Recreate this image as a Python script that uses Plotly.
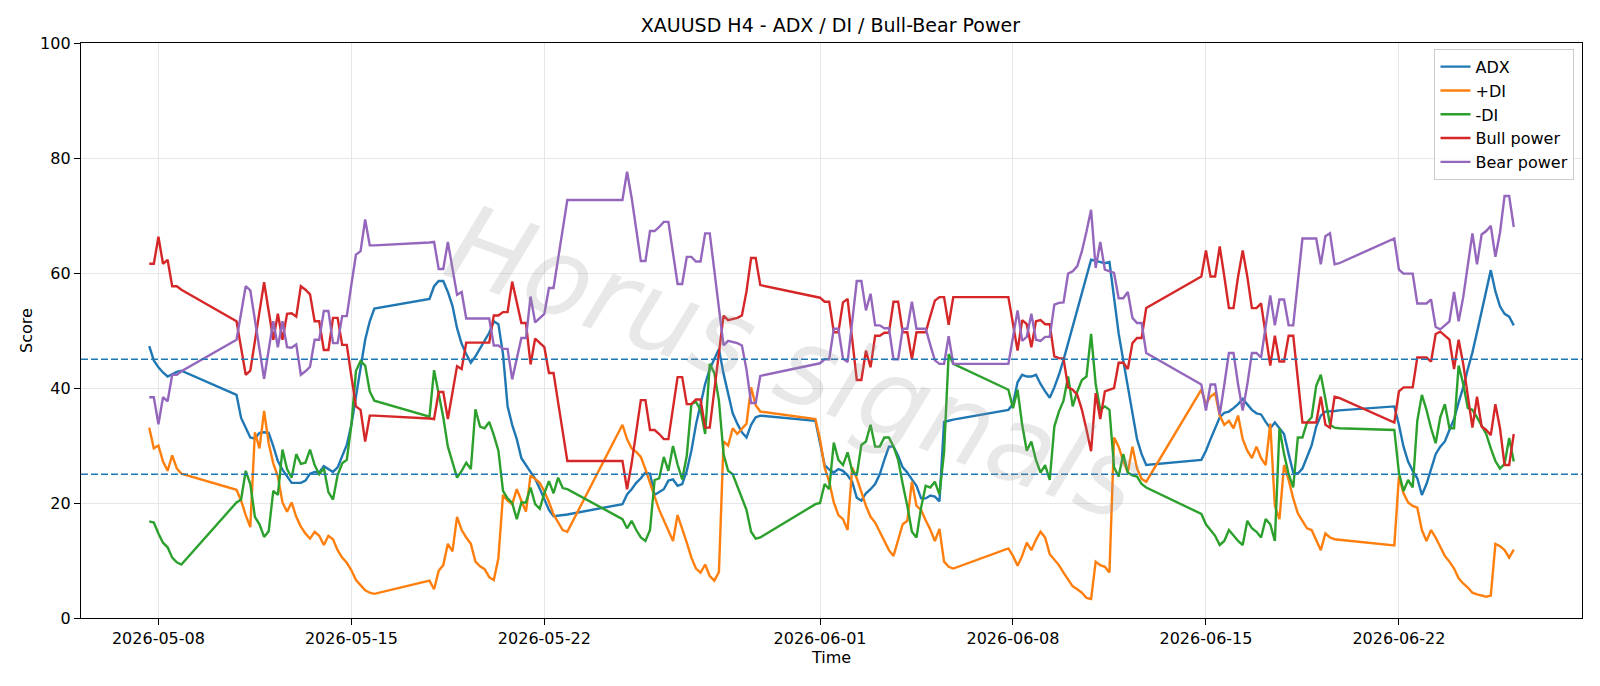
import pandas as pd
import plotly.graph_objects as go

# H4 trading sessions (each weekly block of 4-hour bars)
sessions = [
    ("2026-05-07 16:00", "2026-05-08 20:00"),
    ("2026-05-10 20:00", "2026-05-15 20:00"),
    ("2026-05-17 20:00", "2026-05-22 20:00"),
    ("2026-05-24 20:00", "2026-05-29 20:00"),
    ("2026-05-31 20:00", "2026-06-05 20:00"),
    ("2026-06-07 20:00", "2026-06-12 20:00"),
    ("2026-06-14 20:00", "2026-06-19 20:00"),
    ("2026-06-21 20:00", "2026-06-26 04:00"),
]

adx = [
    47.3, 44.8, 43.6, 42.7, 42.0, 42.4, 42.8, 43.0,
    38.8, 34.8, 33.0, 31.4, 31.2, 32.2, 32.3, 32.2, 29.9, 27.3, 25.8, 24.6, 23.5, 23.5, 23.5, 23.9,
    25.1, 25.4, 25.3, 26.4, 25.9, 25.4, 26.2, 28.0, 30.1, 33.6, 38.3, 43.0, 48.4, 51.6, 53.8,
    55.5, 57.7, 58.6, 58.6, 56.7, 54.3, 50.4, 47.7, 45.9, 44.4, 45.5, 46.8, 48.1, 49.6, 51.6, 51.1,
    45.9, 36.8, 33.6, 31.1, 27.8, 26.6, 25.4, 24.2, 22.5, 20.5, 18.8, 17.7, 17.8, 17.9, 18.0,
    19.8, 21.5, 22.4, 23.5, 24.3, 25.3, 25.1, 21.4, 21.9, 22.4, 23.9, 24.1, 23.0, 23.3, 25.6, 29.1,
    33.6, 37.2, 40.7, 43.3, 45.2, 46.8, 42.5, 38.8, 35.6, 33.8, 32.3, 31.4, 33.6, 34.9, 35.2,
    34.3, 30.4, 26.6, 25.8, 25.3, 25.9, 25.6, 24.8, 23.7, 20.9, 20.4, 21.7, 22.4, 23.3, 25.0, 27.5,
    29.8, 29.8, 28.2, 26.2, 25.3, 24.1, 23.0, 20.8, 20.8, 21.3, 21.1, 20.3, 34.1, 34.3, 34.5,
    36.2, 37.2, 41.0, 42.3, 42.0, 42.0, 42.3, 40.7, 39.4, 38.3, 40.1, 42.3, 44.9, 47.8, 50.7, 53.6,
    56.1, 59.4, 62.3, 62.1, 61.9, 61.7, 61.9, 55.5, 49.5, 44.8, 40.1, 35.6, 31.1, 28.5, 26.6,
    27.5, 29.1, 31.1, 33.0, 34.9, 35.7, 35.9, 36.5, 37.2, 38.1, 37.2, 36.2, 35.6, 35.4, 34.1, 33.0,
    34.0, 33.0, 32.0, 28.5, 25.3, 25.1, 26.0, 28.0, 30.0, 33.3, 35.2, 35.9, 35.9, 36.0, 36.1,
    36.8, 33.6, 29.8, 27.2, 25.6, 24.3, 21.4, 23.3, 25.9, 28.5, 29.8, 30.7, 32.7, 34.6, 37.5, 40.1,
    43.3, 46.2, 49.7, 53.2, 56.5, 60.5, 56.8, 54.2, 52.9, 52.4, 50.9,
]

plus_di = [
    33.1, 29.5, 30.0, 27.2, 25.6, 28.3, 26.0, 25.1,
    22.3, 20.4, 17.9, 15.8, 32.3, 29.5, 36.0, 30.4, 26.9, 24.6, 20.1, 18.5, 20.1, 17.6, 15.9, 14.7,
    13.8, 15.0, 14.3, 12.7, 14.3, 13.7, 11.8, 10.5, 9.6, 8.3, 6.6, 5.6, 4.8, 4.4, 4.2,
    6.5, 5.0, 8.2, 9.2, 12.9, 11.6, 17.6, 15.3, 14.0, 12.9, 9.8, 9.0, 8.5, 7.1, 6.6, 10.4,
    21.4, 20.4, 19.8, 22.4, 20.4, 18.5, 24.8, 24.2, 23.5, 22.0, 20.2, 18.0, 16.6, 15.3, 15.0,
    33.6, 31.1, 29.5, 28.9, 28.0, 25.9, 23.3, 21.1, 18.8, 16.9, 15.0, 13.4, 17.9, 15.6, 13.1, 10.5,
    8.6, 7.9, 9.3, 7.3, 6.5, 8.0, 30.7, 30.0, 33.0, 32.0, 33.0, 33.8, 40.1, 37.0, 35.9,
    34.6, 31.1, 26.2, 23.7, 20.1, 17.9, 17.2, 15.3, 26.2, 24.3, 21.7, 19.5, 17.6, 16.6, 15.0, 13.4,
    11.8, 10.8, 13.4, 16.3, 16.9, 23.7, 19.5, 18.8, 17.0, 15.4, 13.4, 15.5, 9.8, 8.9, 8.6,
    12.1, 10.8, 9.1, 10.8, 13.1, 11.8, 13.6, 15.0, 14.0, 11.1, 10.2, 9.2, 7.9, 6.6, 5.5, 5.0,
    4.4, 3.5, 3.3, 9.8, 9.2, 8.9, 7.9, 31.4, 29.8, 27.3, 25.3, 29.8, 26.0, 24.2, 23.7,
    39.7, 37.2, 38.5, 39.1, 35.2, 33.6, 34.3, 33.0, 35.2, 31.1, 29.1, 27.8, 29.8, 27.8, 26.6, 33.8,
    19.5, 17.2, 26.6, 24.0, 20.8, 18.2, 16.9, 15.6, 15.3, 13.5, 11.8, 14.7, 14.0, 13.7, 13.6,
    12.6, 24.6, 21.7, 20.1, 19.5, 19.2, 15.3, 13.4, 15.3, 14.0, 12.4, 10.8, 9.8, 8.6, 6.9, 6.0,
    5.3, 4.4, 4.1, 3.9, 3.7, 3.9, 12.9, 12.5, 11.8, 10.5, 11.9,
]

minus_di = [
    16.8, 16.6, 14.7, 13.1, 12.3, 10.5, 9.7, 9.3,
    20.1, 20.6, 25.6, 23.3, 17.6, 16.3, 14.1, 15.1, 22.1, 21.4, 29.3, 25.9, 24.4, 28.5, 26.8, 27.0,
    29.3, 26.6, 25.0, 26.1, 21.9, 20.6, 24.8, 26.9, 27.5, 33.6, 43.0, 44.7, 43.9, 39.4, 37.8,
    35.0, 43.1, 38.9, 34.9, 29.8, 26.9, 24.4, 25.6, 27.0, 25.9, 36.3, 33.3, 33.0, 34.1, 31.8, 29.1,
    22.1, 20.8, 20.0, 17.2, 20.1, 20.1, 22.7, 19.8, 19.0, 21.7, 23.8, 21.7, 24.4, 22.6, 22.4,
    17.2, 15.6, 16.9, 15.3, 14.0, 13.4, 15.3, 24.0, 24.3, 28.0, 25.6, 29.9, 26.7, 24.1, 28.2, 37.2,
    37.6, 36.2, 32.0, 44.2, 42.6, 37.8, 28.5, 25.6, 25.0, 23.0, 21.0, 18.8, 15.0, 13.8, 14.0,
    19.8, 20.0, 23.3, 22.4, 30.5, 27.5, 26.6, 28.8, 25.6, 24.8, 30.1, 30.7, 33.6, 29.8, 29.8, 31.4,
    31.4, 29.8, 27.5, 23.3, 19.5, 15.0, 14.0, 19.2, 23.0, 22.7, 23.7, 21.5, 28.8, 45.9, 44.2,
    39.7, 36.5, 39.7, 33.6, 29.1, 30.7, 27.5, 25.3, 26.6, 24.0, 33.3, 35.9, 37.8, 42.0, 36.8, 39.4,
    41.4, 42.0, 49.4, 40.7, 36.2, 36.8, 36.2, 26.2, 24.6, 28.5, 25.3, 24.8, 24.6, 23.3, 22.7,
    18.1, 16.3, 15.3, 14.3, 12.7, 13.4, 15.3, 14.3, 13.4, 12.7, 16.9, 15.6, 15.0, 14.0, 17.2, 16.3,
    13.4, 33.0, 28.5, 25.0, 22.7, 31.4, 31.4, 34.0, 34.9, 40.4, 42.3, 38.1, 33.6, 33.1, 33.0,
    32.7, 25.3, 22.1, 24.0, 22.7, 34.3, 38.8, 36.2, 33.0, 30.4, 34.9, 37.2, 33.0, 33.0, 43.9, 40.7,
    36.5, 36.2, 34.9, 33.5, 32.0, 29.5, 27.3, 26.0, 26.8, 31.3, 27.2,
]

bull_power = [
    61.6, 61.6, 66.3, 61.6, 62.3, 57.7, 57.7, 57.1,
    51.6, 47.0, 42.3, 43.0, 48.2, 53.3, 58.4, 53.4, 48.4, 52.9, 48.4, 52.9, 53.0, 52.4, 57.7, 57.1,
    56.3, 51.6, 51.6, 46.6, 46.6, 52.2, 52.2, 47.5, 47.5, 42.0, 36.8, 36.2, 30.7, 35.2, 35.2,
    34.7, 34.6, 39.3, 39.3, 34.6, 39.2, 43.8, 43.3, 47.9, 47.9, 47.9, 47.9, 47.9, 47.9, 52.6, 52.6,
    53.2, 53.2, 58.5, 55.0, 51.3, 51.3, 44.1, 48.6, 47.9, 47.1, 42.6, 42.6, 37.5, 32.3, 27.3,
    27.3, 22.4, 26.9, 32.3, 37.9, 37.9, 32.7, 32.7, 32.0, 31.1, 31.1, 36.5, 41.9, 41.9, 37.2, 37.2,
    38.0, 38.0, 33.1, 33.1, 39.4, 45.9, 52.6, 51.8, 52.0, 52.2, 52.6, 56.8, 62.6, 62.6, 57.9,
    55.8, 55.7, 55.0, 55.0, 49.7, 49.7, 54.9, 55.5, 48.5, 41.4, 41.4, 46.5, 43.6, 49.1, 49.1, 49.6,
    49.6, 55.0, 55.0, 49.7, 49.7, 45.0, 49.7, 49.7, 49.7, 52.5, 55.2, 55.8, 55.8, 51.0, 55.8,
    55.8, 51.0, 46.5, 51.8, 51.1, 47.1, 51.6, 51.8, 51.1, 51.1, 45.5, 45.2, 45.1, 40.1, 39.7, 38.8,
    36.2, 32.8, 29.0, 39.1, 34.6, 39.4, 39.7, 40.0, 44.4, 44.4, 43.3, 47.8, 48.7, 48.7, 53.9,
    59.4, 63.9, 59.4, 59.4, 64.6, 59.4, 53.9, 53.9, 59.4, 63.9, 59.4, 53.9, 53.9, 54.7, 49.7, 43.9,
    49.1, 44.6, 44.6, 49.1, 49.1, 41.4, 34.0, 34.0, 34.0, 34.0, 38.5, 33.6, 33.1, 38.5, 38.3,
    34.0, 39.4, 40.1, 40.1, 40.1, 45.3, 45.3, 45.3, 44.6, 49.4, 49.8, 49.1, 48.4, 43.3, 48.4, 44.2,
    38.8, 33.1, 38.5, 33.3, 32.7, 31.8, 37.2, 33.0, 26.6, 26.6, 32.0,
]

bear_power = [
    38.4, 38.4, 33.7, 38.4, 37.7, 42.3, 42.3, 42.9,
    48.4, 53.0, 57.7, 57.0, 51.8, 46.7, 41.6, 46.6, 51.6, 47.1, 51.6, 47.1, 47.0, 47.6, 42.3, 42.9,
    43.7, 48.4, 48.4, 53.4, 53.4, 47.8, 47.8, 52.5, 52.5, 58.0, 63.2, 63.8, 69.3, 64.8, 64.8,
    65.3, 65.4, 60.7, 60.7, 65.4, 60.8, 56.2, 56.7, 52.1, 52.1, 52.1, 52.1, 52.1, 52.1, 47.4, 47.4,
    46.8, 46.8, 41.5, 45.0, 48.7, 48.7, 55.9, 51.4, 52.1, 52.9, 57.4, 57.4, 62.5, 67.7, 72.7,
    72.7, 77.6, 73.1, 67.7, 62.1, 62.1, 67.3, 67.3, 68.0, 68.9, 68.9, 63.5, 58.1, 58.1, 62.8, 62.8,
    62.0, 62.0, 66.9, 66.9, 60.6, 54.1, 47.4, 48.2, 48.0, 47.8, 47.4, 43.2, 37.4, 37.4, 42.1,
    44.2, 44.3, 45.0, 45.0, 50.3, 50.3, 45.1, 44.5, 51.5, 58.6, 58.6, 53.5, 56.4, 50.9, 50.9, 50.4,
    50.4, 45.0, 45.0, 50.3, 50.3, 55.0, 50.3, 50.3, 50.3, 47.5, 44.8, 44.2, 44.2, 49.0, 44.2,
    44.2, 49.0, 53.5, 48.2, 48.9, 52.9, 48.4, 48.2, 48.9, 48.9, 54.5, 54.8, 54.9, 59.9, 60.3, 61.2,
    63.8, 67.2, 71.0, 60.9, 65.4, 60.6, 60.3, 60.0, 55.6, 55.6, 56.7, 52.2, 51.3, 51.3, 46.1,
    40.6, 36.1, 40.6, 40.6, 35.4, 40.6, 46.1, 46.1, 40.6, 36.1, 40.6, 46.1, 46.1, 45.3, 50.3, 56.1,
    50.9, 55.4, 55.4, 50.9, 50.9, 58.6, 66.0, 66.0, 66.0, 66.0, 61.5, 66.4, 66.9, 61.5, 61.7,
    66.0, 60.6, 59.9, 59.9, 59.9, 54.7, 54.7, 54.7, 55.4, 50.6, 50.2, 50.9, 51.6, 56.7, 51.6, 55.8,
    61.2, 66.9, 61.5, 66.7, 67.3, 68.2, 62.8, 67.0, 73.4, 73.4, 68.0,
]

tick_dates = ["2026-05-08", "2026-05-15", "2026-05-22", "2026-06-01",
              "2026-06-08", "2026-06-15", "2026-06-22"]
y_ticks = [0, 20, 40, 60, 80, 100]
thresholds = [45, 25]

times = []
for start, end in sessions:
    times.extend(pd.date_range(start, end, freq="4h"))

# matplotlib-like 5% x margins
t0, t1 = times[0], times[-1]
pad = (t1 - t0) * 0.05
x_range = [t0 - pad, t1 + pad]

FONT = "DejaVu Sans"
series = [
    ("ADX", adx, "#1f77b4"),
    ("+DI", plus_di, "#ff7f0e"),
    ("-DI", minus_di, "#2ca02c"),
    ("Bull power", bull_power, "#d62728"),
    ("Bear power", bear_power, "#9467bd"),
]

fig = go.Figure()
for name, vals, color in series:
    fig.add_trace(go.Scatter(x=times, y=vals, mode="lines", name=name,
                             line=dict(color=color, width=2.4)))

for th in thresholds:
    fig.add_shape(type="line", xref="paper", x0=0, x1=1, yref="y", y0=th, y1=th,
                  line=dict(color="#1f77b4", width=1.5, dash="7px,3px"), layer="above")

fig.add_annotation(text="Horus signals", xref="paper", yref="paper", x=0.475, y=0.445,
                   showarrow=False, textangle=20,
                   font=dict(family=FONT, size=108, color="rgba(150,150,150,0.22)", style="italic"))

axis_common = dict(showline=True, mirror=True, linecolor="black", linewidth=1.3,
                   ticks="outside", ticklen=6, tickwidth=1.3, tickcolor="black",
                   showgrid=True, gridcolor="#e6e6e6", gridwidth=1.2, zeroline=False,
                   tickfont=dict(family=FONT, size=16, color="black"))

fig.update_layout(
    width=1600, height=686,
    margin=dict(l=81, r=18, t=43, b=68),
    paper_bgcolor="white", plot_bgcolor="white",
    title=dict(text="XAUUSD H4 - ADX / DI / Bull-Bear Power", x=0.519, xanchor="center",
               y=0.963, yanchor="middle", yref="container",
               font=dict(family=FONT, size=19, color="black")),
    xaxis=dict(type="date", range=x_range, tickvals=tick_dates, ticktext=tick_dates,
               title=dict(text="Time", font=dict(family=FONT, size=16, color="black"), standoff=3),
               **axis_common),
    yaxis=dict(range=[0, 100], tickvals=y_ticks,
               title=dict(text="Score", font=dict(family=FONT, size=16, color="black"), standoff=3),
               **axis_common),
    legend=dict(x=0.995, xanchor="right", y=0.99, yanchor="top",
                bgcolor="rgba(255,255,255,0.8)", bordercolor="#cccccc", borderwidth=1,
                font=dict(family=FONT, size=16, color="black"), tracegroupgap=0),
    showlegend=True,
)

fig.write_html("out.html")
